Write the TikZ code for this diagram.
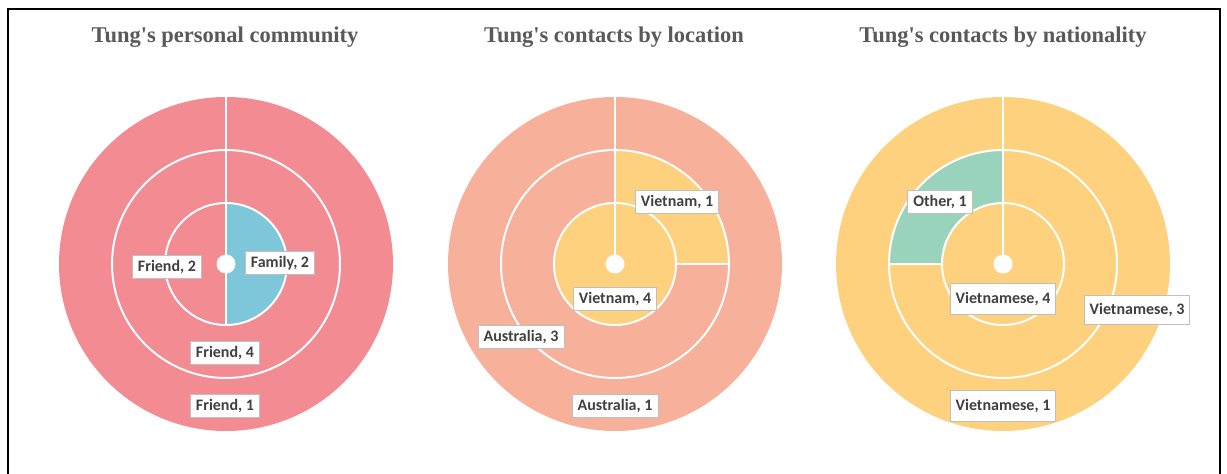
\documentclass[tikz,border=0pt]{standalone}
\usepackage{fontspec}
\setmainfont{Liberation Serif}
\newfontfamily\lblfont{Carlito}
\usetikzlibrary{calc}

\definecolor{pinkring}{RGB}{243,139,147}
\definecolor{bluering}{RGB}{126,199,218}
\definecolor{salmonring}{RGB}{247,176,153}
\definecolor{yellowring}{RGB}{254,209,127}
\definecolor{greenring}{RGB}{154,211,188}
\definecolor{titlegray}{RGB}{89,89,89}
\definecolor{labelgray}{RGB}{64,64,64}
\definecolor{boxgray}{RGB}{191,191,191}

% one slice of a ring: centre, inner r, outer r, start, end, colour
\newcommand{\ringslice}[6]{%
  \fill[#6] ($(#1)+(#4:#3)$) arc[start angle=#4, end angle=#5, radius=#3]
    -- ($(#1)+(#5:#2)$) arc[start angle=#5, end angle=#4, radius=#2] -- cycle;
}

\tikzset{
  charttitle/.style={text=titlegray, font=\bfseries\fontsize{22.5}{26}\selectfont},
  slicelabel/.style={draw=boxgray, fill=white, text=labelgray, line width=0.8pt,
    font=\lblfont\bfseries\fontsize{16}{18}\selectfont,
    inner xsep=5.5pt, inner ysep=2pt, minimum height=23pt},
  ringline/.style={white, line width=2pt}
}

\begin{document}
\begin{tikzpicture}[x=1pt, y=1pt]
	\useasboundingbox (0,0) rectangle (1227,474);
	% frame
	\draw[line width=2pt] (8,0) -- (8,465) -- (1220,465) -- (1220,0);
	
	\coordinate (c1) at (226,210);
	\coordinate (c2) at (615,210);
	\coordinate (c3) at (1003,210);
	
	% titles
	\node[charttitle] (title1) at (225,437) {Tung\textquotesingle s personal community};
	\node[charttitle] (title2) at (614,437) {Tung\textquotesingle s contacts by location};
	\node[charttitle] (title3) at (1003,437) {Tung\textquotesingle s contacts by nationality};
	
	% personal community
	\ringslice{c1}{114}{167}{90}{-270}{pinkring}
	\ringslice{c1}{61}{114}{90}{-270}{pinkring}
	\ringslice{c1}{0}{61}{90}{-90}{bluering}
	\ringslice{c1}{0}{61}{-90}{-270}{pinkring}
	
	% by location
	\ringslice{c2}{114}{167}{90}{-270}{salmonring}
	\ringslice{c2}{61}{114}{90}{0}{yellowring}
	\ringslice{c2}{61}{114}{0}{-270}{salmonring}
	\ringslice{c2}{0}{61}{90}{-270}{yellowring}
	
	% by nationality
	\ringslice{c3}{114}{167}{90}{-270}{yellowring}
	\ringslice{c3}{61}{114}{90}{-180}{yellowring}
	\ringslice{c3}{61}{114}{-180}{-270}{greenring}
	\ringslice{c3}{0}{61}{90}{-270}{yellowring}
	
	% white ring borders
	\foreach \c in {c1,c2,c3} {
		\draw[ringline] (\c) circle[radius=61];
		\draw[ringline] (\c) circle[radius=114];
		\draw[ringline] (\c) -- ($(\c)+(0,167)$);
		\fill[white] (\c) circle[radius=9.5];
	}
	\draw[ringline] (c1) -- ($(c1)+(0,-61)$);
	\draw[ringline] ($(c2)+(61,0)$) -- ($(c2)+(114,0)$);
	\draw[ringline] ($(c3)+(-61,0)$) -- ($(c3)+(-114,0)$);
	
	% labels
	\node[slicelabel] (friend2) at (167,207.5) {Friend, 2};
	\node[slicelabel] (family2) at (280,211) {Family, 2};
	\node[slicelabel] (friend4) at (225,121) {Friend, 4};
	\node[slicelabel] (friend1) at (225,68) {Friend, 1};
	
	\node[slicelabel] (vietnam1) at (677,272) {Vietnam, 1};
	\node[slicelabel] (vietnam4) at (615,175) {Vietnam, 4};
	\node[slicelabel] (australia3) at (521,137.5) {Australia, 3};
	\node[slicelabel] (australia1) at (615,68) {Australia, 1};
	
	\node[slicelabel] (other1) at (940,272) {Other, 1};
	\node[slicelabel, minimum height=31pt] (vietnamese4) at (1003,175) {Vietnamese, 4};
	\node[slicelabel, minimum height=29pt] (vietnamese3) at (1137,164) {Vietnamese, 3};
	\node[slicelabel, minimum height=31pt] (vietnamese1) at (1003,68) {Vietnamese, 1};
\end{tikzpicture}
\end{document}
